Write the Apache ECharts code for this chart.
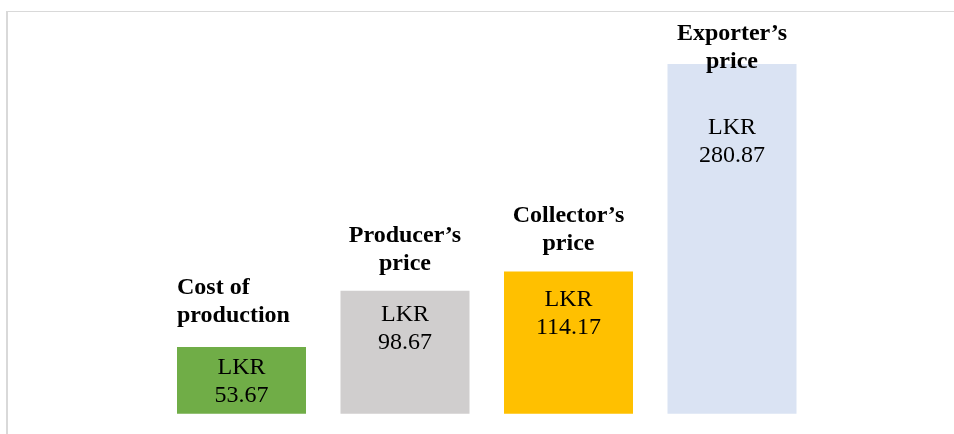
<!DOCTYPE html>
<html>
<head>
<meta charset="utf-8">
<script src="https://cdn.jsdelivr.net/npm/echarts@6/dist/echarts.min.js"></script>
<style>html,body{margin:0;padding:0;background:#fff}#c{width:954px;height:434px}</style>
</head>
<body>
<div id="c"></div>
<script>
const categories = ["Cost of\nproduction", "Producer’s\nprice", "Collector’s\nprice", "Exporter’s\nprice"];
const values = [53.67, 98.67, 114.17, 280.87];
const valueLabels = ["LKR\n53.67", "LKR\n98.67", "LKR\n114.17", "LKR\n280.87"];
const colors = ["#70AD47", "#D0CECE", "#FFC000", "#DAE3F3"];

const valueOffsets = [7, 10, 14, 50];
const titleOffsets = [[-64.5, -17.5], [0, -13.5], [0, -13.5], [0, 11.5]];
const titleAligns = ["left", "center", "center", "center"];

const chart = echarts.init(document.getElementById('c'), null, {renderer: 'canvas'});
chart.setOption({
  animation: false,
  backgroundColor: '#fff',
  grid: {left: 159.75, right: 140.25, top: 40.2, bottom: 20.3},
  xAxis: {type: 'category', data: categories, show: false},
  yAxis: {type: 'value', min: 0, max: 300, show: false},
  graphic: [
    {type: 'line', shape: {x1: 6, y1: 11.5, x2: 954, y2: 11.5}, style: {stroke: '#D9D9D9', lineWidth: 1}},
    {type: 'line', shape: {x1: 7, y1: 11, x2: 7, y2: 434}, style: {stroke: '#D9D9D9', lineWidth: 2}}
  ],
  series: [
    {
      type: 'bar',
      barWidth: 129,
      data: values.map((v, i) => ({
        value: v,
        itemStyle: {color: colors[i]},
        label: {
          show: true, position: 'insideTop', distance: 0,
          offset: [0, valueOffsets[i]],
          formatter: valueLabels[i],
          fontFamily: '"Liberation Serif", "Times New Roman", serif',
          fontSize: 24, lineHeight: 28, color: '#000', align: 'center'
        }
      }))
    },
    {
      type: 'bar',
      barWidth: 129,
      barGap: '-100%',
      z: 3,
      data: values.map((v, i) => ({
        value: v,
        itemStyle: {color: 'rgba(0,0,0,0)'},
        label: {
          show: true, position: 'top', distance: 0,
          offset: titleOffsets[i],
          formatter: categories[i],
          fontFamily: '"Liberation Serif", "Times New Roman", serif',
          fontWeight: 'bold',
          fontSize: 24, lineHeight: 28, color: '#000', align: titleAligns[i]
        }
      }))
    }
  ]
});
</script>
</body>
</html>
